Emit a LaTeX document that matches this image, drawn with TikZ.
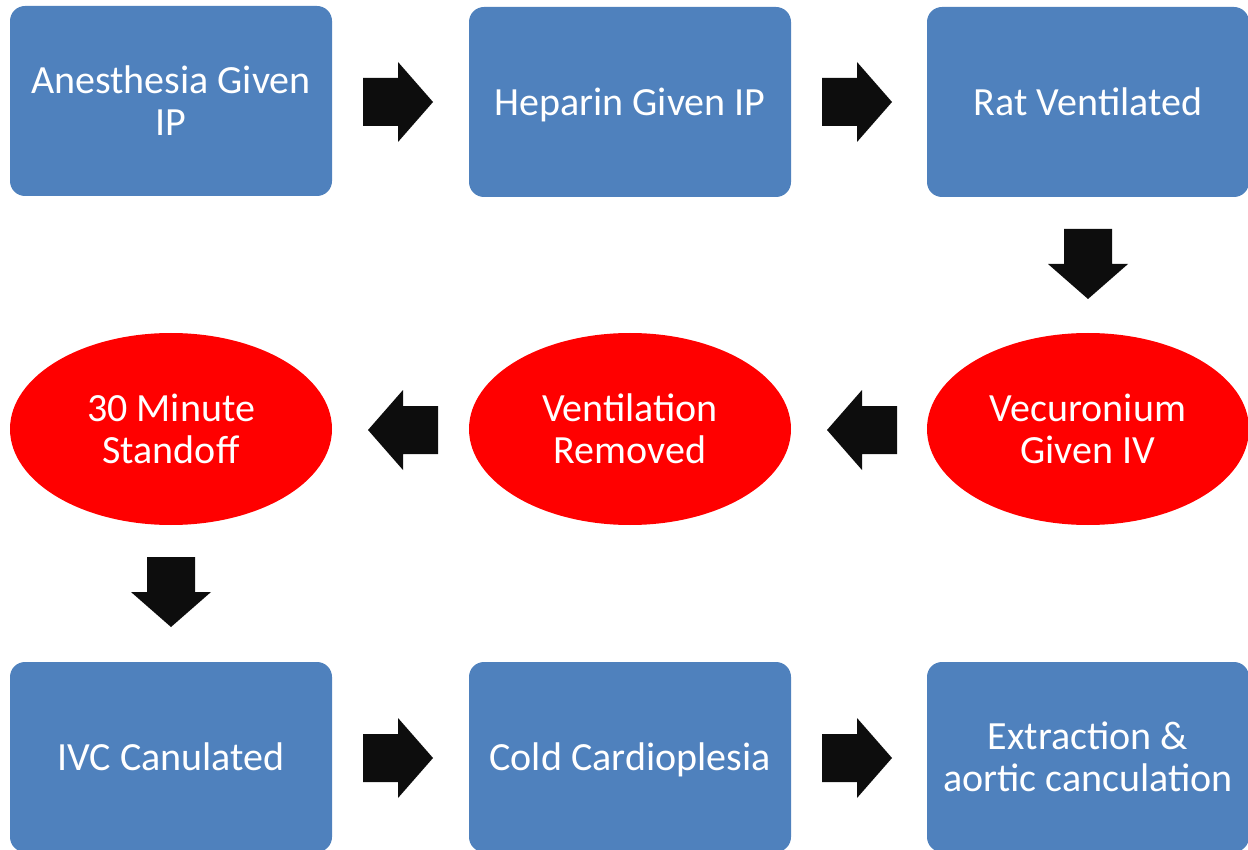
\documentclass[tikz,border=0pt]{standalone}
\usepackage{fontspec}
\setmainfont{Carlito}
\usetikzlibrary{shapes.geometric,calc}
\definecolor{boxblue}{HTML}{4F81BD}
\definecolor{ovalred}{HTML}{FF0000}
\definecolor{arrowblack}{HTML}{0D0D0D}
\tikzset{
  stepbox/.style={rectangle, rounded corners=15pt, fill=boxblue, draw=none,
    minimum width=322pt, minimum height=190pt, inner sep=0pt,
    text=white, align=center, font=\fontsize{40}{42}\selectfont},
  oval/.style={ellipse, fill=ovalred, draw=none,
    minimum width=322pt, minimum height=192pt, inner sep=0pt,
    text=white, align=center, font=\fontsize{40}{42}\selectfont},
  blockarrow/.pic={
    \fill[arrowblack] (-35,-24) -- (0,-24) -- (0,-40) -- (35,0) -- (0,40) -- (0,24) -- (-35,24) -- cycle;
  }
}
\begin{document}
\begin{tikzpicture}[x=1pt,y=-1pt]
\useasboundingbox (0,0) rectangle (1248,850);
\clip (0,0) rectangle (1248,850);
% row 1
\node[stepbox] (b1) at (171,101) {Anesthesia Given\\IP};
\node[stepbox, text depth=0pt] (b2) at (630,102) {Heparin Given IP};
\node[stepbox] (b3) at (1088,102) {Rat Ventilated};
% row 2
\node[oval] (e3) at (1088,429) {Vecuronium\\Given IV};
\node[oval] (e2) at (630,429) {Ventilation\\Removed};
\node[oval] (e1) at (171,429) {30 Minute\\Standoff};
% row 3
\node[stepbox] (c1) at (171,757) {IVC Canulated};
\node[stepbox, text depth=0pt] (c2) at (630,757) {Cold Cardioplesia};
\node[stepbox] (c3) at (1088,757) {Extraction \&\\aortic canculation};
% arrows
\coordinate (a12) at (398,102);
\coordinate (a23) at (857,102);
\coordinate (a3e) at (1088,264);
\coordinate (ae32) at (862,430);
\coordinate (ae21) at (403,430);
\coordinate (ae1c) at (171,592);
\coordinate (ac12) at (398,758);
\coordinate (ac23) at (857,758);
\pic at (a12) {blockarrow};
\pic at (a23) {blockarrow};
\pic[rotate=-90] at (a3e) {blockarrow};
\pic[rotate=180] at (ae32) {blockarrow};
\pic[rotate=180] at (ae21) {blockarrow};
\pic[rotate=-90] at (ae1c) {blockarrow};
\pic at (ac12) {blockarrow};
\pic at (ac23) {blockarrow};
\end{tikzpicture}
\end{document}
